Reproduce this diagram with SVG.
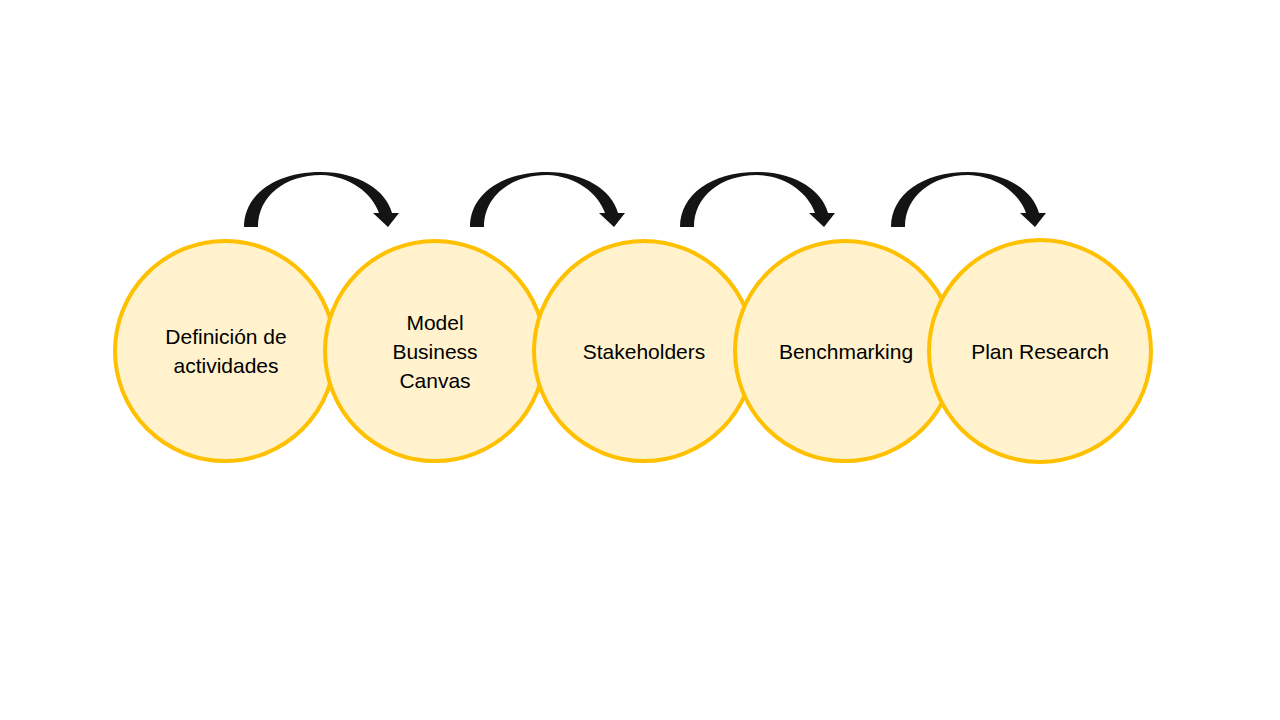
<svg xmlns="http://www.w3.org/2000/svg" xmlns:xlink="http://www.w3.org/1999/xlink" width="1280" height="720" viewBox="0 0 1280 720">
  <style>
    .node circle { fill: #FFF2CC; stroke: #FFC000; stroke-width: 4; }
    .node text { font-family: "Liberation Sans", Arial, sans-serif; font-size: 21px; fill: #000000; text-anchor: middle; }
    .arrow { fill: #141414; stroke: none; }
  </style>
  <defs>
    <path id="curvedArrow" class="arrow" d="M244,227 C244,195 275,172 321,172 C358,172 386,190 392,213 L399,213 L388,227 L373,213 L379,213 C372,193 350,176 321,175 C285,175 258,196 258,227 Z"/>
  </defs>
  <rect x="0" y="0" width="1280" height="720" fill="#FFFFFF"/>
  <g id="node1" class="node">
    <circle cx="225" cy="351" r="110"/>
    <text x="226" y="344">Definición de</text>
    <text x="226" y="373">actividades</text>
  </g>
  <g id="node2" class="node">
    <circle cx="435" cy="351" r="110"/>
    <text x="435" y="330">Model</text>
    <text x="435" y="359">Business</text>
    <text x="435" y="388">Canvas</text>
  </g>
  <g id="node3" class="node">
    <circle cx="644" cy="351" r="110"/>
    <text x="644" y="359">Stakeholders</text>
  </g>
  <g id="node4" class="node">
    <circle cx="845" cy="351" r="110"/>
    <text x="846" y="359">Benchmarking</text>
  </g>
  <g id="node5" class="node">
    <circle cx="1040" cy="351" r="111"/>
    <text x="1040" y="359">Plan Research</text>
  </g>
  <g id="connectors">
    <use xlink:href="#curvedArrow"/>
    <use xlink:href="#curvedArrow" transform="translate(226,0)"/>
    <use xlink:href="#curvedArrow" transform="translate(436,0)"/>
    <use xlink:href="#curvedArrow" transform="translate(647,0)"/>
  </g>
</svg>
